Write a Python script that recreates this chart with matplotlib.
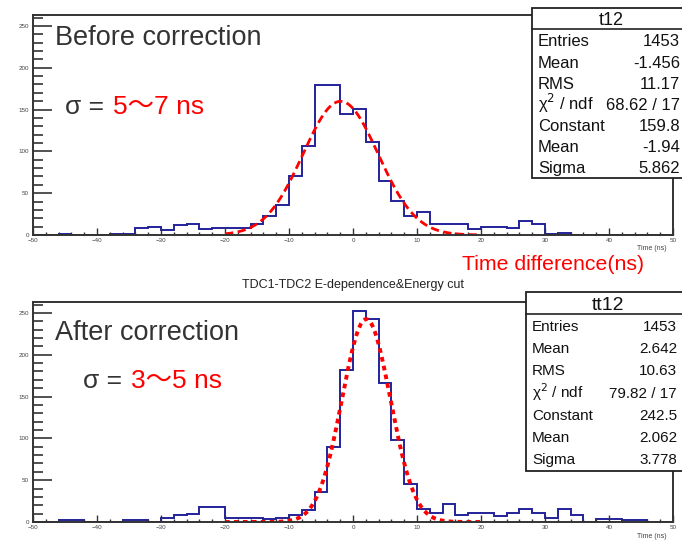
import numpy as np
import matplotlib
matplotlib.use("Agg")
import matplotlib.pyplot as plt
from matplotlib.ticker import MultipleLocator
from matplotlib.patches import Rectangle

plt.rcParams['font.family'] = ['Liberation Sans', 'Noto Sans CJK JP', 'DejaVu Sans']

# 2 ns bins from -50 to 50 ns
edges = np.arange(-50, 51, 2)

# TDC1-TDC2 time difference, before the energy-dependence correction
counts_before = [0, 0, 1, 0, 0, 0, 1, 1,
                 8, 10, 6, 12, 13, 7, 8, 8,
                 8, 13, 23, 36, 71, 106, 179, 179,
                 145, 151, 111, 65, 41, 23, 28, 13,
                 13, 13, 7, 9, 9, 8, 17, 13,
                 1, 2, 0, 0, 0, 0, 0, 0, 0, 0]

# same events after correction and energy cut
counts_after = [0, 0, 2, 2, 0, 0, 0, 2,
                2, 0, 5, 8, 10, 18, 18, 5,
                5, 5, 4, 5, 8, 14, 36, 90,
                182, 252, 243, 166, 98, 45, 15, 11,
                22, 8, 11, 11, 7, 11, 15, 11,
                5, 15, 8, 0, 3, 3, 2, 2, 0, 0]

# gaussian fit results (fit range -20..20 ns)
fit_range = (-20, 20)
fit_before = (159.8, -1.94, 5.862)
fit_after = (242.5, 2.062, 3.778)

stats_before = [("Entries", "1453"), ("Mean", "-1.456"), ("RMS", "11.17"),
                ("χ$^{2}$ / ndf", "68.62 / 17"), ("Constant", "159.8"),
                ("Mean", "-1.94"), ("Sigma", "5.862")]
stats_after = [("Entries", "1453"), ("Mean", "2.642"), ("RMS", "10.63"),
               ("χ$^{2}$ / ndf", "79.82 / 17"), ("Constant", "242.5"),
               ("Mean", "2.062"), ("Sigma", "3.778")]

W, H = 682, 540
fig = plt.figure(figsize=(W / 100, H / 100), dpi=100)
fig.patch.set_facecolor("white")

HIST_BLUE = "#22229a"
FRAME = "#333333"


def px(x, y):
    # pixel coords (from top-left) -> figure fraction
    return x / W, 1 - y / H


def make_axes(top, bottom):
    left, right = 33, 673
    ax = fig.add_axes([left / W, 1 - bottom / H, (right - left) / W, (bottom - top) / H])
    ax.set_xlim(-50, 50)
    ax.set_ylim(0, 263)
    for side in ax.spines.values():
        side.set_color(FRAME)
        side.set_linewidth(1.4)
    ax.xaxis.set_major_locator(MultipleLocator(10))
    ax.xaxis.set_minor_locator(MultipleLocator(2))
    ax.yaxis.set_major_locator(MultipleLocator(50))
    ax.yaxis.set_minor_locator(MultipleLocator(10))
    ax.tick_params(axis="x", which="major", direction="in", length=5, width=1,
                   color=FRAME, labelsize=4.5, labelcolor="#444444", pad=2)
    ax.tick_params(axis="x", which="minor", direction="in", length=2.5, width=1, color=FRAME)
    ax.tick_params(axis="y", which="major", direction="in", length=14, width=1.2,
                   color=FRAME, labelsize=4.5, labelcolor="#444444", pad=3)
    ax.tick_params(axis="y", which="minor", direction="in", length=7.5, width=1.2, color=FRAME)
    return ax


def gauss(x, c, m, s):
    return c * np.exp(-0.5 * ((x - m) / s) ** 2)


def stats_box(x0, y0, x1, y1, head_y, header, rows, first_y, step, val_x, fs, hfs):
    bx, by = px(x0, y1)
    rect = Rectangle((bx, by), (x1 - x0) / W, (y1 - y0) / H,
                     transform=fig.transFigure, facecolor="white",
                     edgecolor="#222222", linewidth=1.3, zorder=5)
    fig.patches.append(rect)
    hx, hy = px(x0, head_y)
    fig.lines.append(plt.Line2D([hx, x1 / W], [hy, hy], transform=fig.transFigure,
                                color="#222222", linewidth=1.2, zorder=6))
    # baseline offset: half the cap height, in pixels
    off = 0.36 * fs * 100 / 72
    hoff = 0.36 * hfs * 100 / 72
    cx, cy = px((x0 + 682) / 2 + 4, (y0 + head_y) / 2 + hoff)
    fig.text(cx, cy, header, ha="center", va="baseline", fontsize=hfs,
             color="#111111", zorder=7)
    for i, (name, val) in enumerate(rows):
        yy = round(first_y + i * step + off)
        tx, ty = px(x0 + 6, yy)
        fig.text(tx, ty, name, ha="left", va="baseline", fontsize=fs,
                 color="#111111", zorder=7)
        vx, _ = px(val_x, yy)
        fig.text(vx, ty, val, ha="right", va="baseline", fontsize=fs,
                 color="#111111", zorder=7)


# ---- top: before correction ----
ax1 = make_axes(15, 235)
ax1.stairs(counts_before, edges, color=HIST_BLUE, linewidth=1.4)
xf = np.linspace(fit_range[0], fit_range[1], 400)
ax1.plot(xf, gauss(xf, *fit_before), color="red", linewidth=2.0,
         linestyle=(0, (3.0, 1.6)))

# ---- bottom: after correction ----
ax2 = make_axes(302, 522)
ax2.stairs(counts_after, edges, color=HIST_BLUE, linewidth=1.4)
ax2.plot(xf, gauss(xf, *fit_after), color="red", linewidth=2.8,
         linestyle=(0, (1.2, 1.1)))

# axis title at bottom right
for yy in (248, 537):
    fig.text(*px(667, yy), "Time (ns)", ha="right", va="center", fontsize=5, color="#444444")

fig.text(*px(353, 285), "TDC1-TDC2 E-dependence&Energy cut", ha="center", va="center",
         fontsize=9, color="#222222")

# annotations
GRAY = "#333333"
fig.text(*px(55, 38), "Before correction", ha="left", va="center", fontsize=19.5, color=GRAY)
fig.text(*px(65, 107), "σ =", ha="left", va="center", fontsize=19, color=GRAY)
fig.text(*px(113, 107), "5～7 ns", ha="left", va="center", fontsize=19, color="red")

fig.text(*px(55, 333), "After correction", ha="left", va="center", fontsize=19.5, color=GRAY)
fig.text(*px(83, 381), "σ =", ha="left", va="center", fontsize=19, color=GRAY)
fig.text(*px(131, 381), "3～5 ns", ha="left", va="center", fontsize=19, color="red")

fig.text(*px(462, 265), "Time difference(ns)", ha="left", va="center", fontsize=15.3, color="red")

# statistics boxes
stats_box(532, 8, 700, 178, 28.5, "t12", stats_before, 40.5, 21.1, 680, 12, 13)
stats_box(526, 292, 700, 471, 314, "tt12", stats_after, 325.5, 22.2, 677, 11, 14)

fig.savefig("out.png", dpi=100, facecolor="white")
